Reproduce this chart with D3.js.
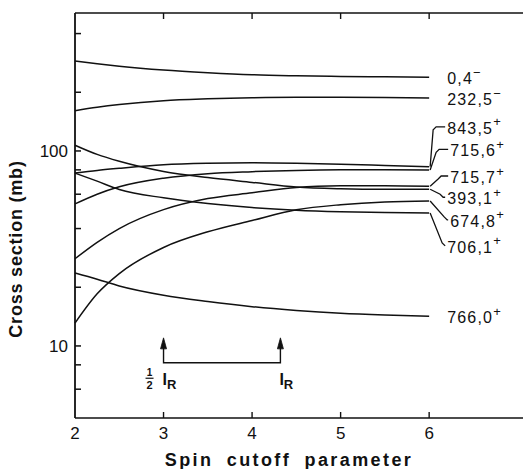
<!DOCTYPE html>
<html><head><meta charset="utf-8">
<script src="https://cdn.jsdelivr.net/npm/d3@7"></script>
<style>
html,body{margin:0;padding:0;background:#fff;}
svg{display:block;}
text{font-family:"Liberation Sans",Arial,sans-serif;fill:#111;}
</style></head>
<body>
<svg id="c" width="523" height="469"></svg>
<script>
// ---- data ----
const spinCutoff = [2, 2.25, 2.5, 3, 3.5, 4, 4.5, 5, 5.5, 6];
const levels = ["0,4", "232,5", "843,5", "715,6", "715,7", "393,1", "674,8", "706,1", "766,0"];
const parities = ["−", "−", "+", "+", "+", "+", "+", "+", "+"];
const sigma_0_4   = [289, 280, 272, 260, 252, 246, 243, 241, 240, 239];
const sigma_232_5 = [161, 167.5, 173, 181, 185, 187.5, 188.5, 188.5, 188, 187];
const sigma_843_5 = [77, 79.5, 81.5, 85, 86.5, 87, 86.5, 85.5, 84.3, 83.1];
const sigma_715_6 = [53.5, 60, 65.5, 72.5, 76.5, 78.3, 79.5, 80, 80, 79.9];
const sigma_715_7 = [28, 34, 40, 50, 57, 61, 65, 66.3, 66.4, 66];
const sigma_393_1 = [107, 96, 88.5, 78.5, 73, 69, 65.3, 64, 63.6, 63.6];
const sigma_674_8 = [13.1, 18.5, 23.5, 32, 38.5, 44, 49.9, 53, 54.8, 55.4];
const sigma_706_1 = [77, 70, 63.5, 57.5, 53.8, 51.3, 49.7, 48.8, 48.3, 48];
const sigma_766_0 = [23.7, 22, 20.3, 18.2, 16.9, 15.9, 15.2, 14.7, 14.4, 14.2];
const series = [sigma_0_4, sigma_232_5, sigma_843_5, sigma_715_6, sigma_715_7,
                sigma_393_1, sigma_674_8, sigma_706_1, sigma_766_0];
// label anchor values (mb) for the right-hand labels (null = at line end)
const labelValues = [null, null, 133, 102, 74.4, 57.9, 44.3, 32.6, null];
const xTicks = [2, 3, 4, 5, 6];
const xTickLabels = ["2", "3", "4", "5", "6"];
const yTicks = [6, 8, 10, 20, 40, 60, 80, 100, 200, 400];
const yTickLabels = [10, 100];
const arrowParams = [3.0, 4.32];           // ½ I_R and I_R
const arrowSpan = [8.2, 11.0];             // base, tip (mb)

// ---- layout ----
const svg = d3.select("#c");
const x = d3.scaleLinear().domain([2, 7.06]).range([75, 523]);
const y = d3.scaleLog().domain([4.27, 510]).range([418, 13]);
const ink = "#111";

const g = svg.append("g");

// frame: left, top, bottom
g.append("line").attr("x1", x(2)).attr("x2", x(2)).attr("y1", y.range()[0]).attr("y2", y.range()[1])
  .attr("stroke", ink).attr("stroke-width", 1.8);
g.append("line").attr("x1", x(2)).attr("x2", 523).attr("y1", y.range()[1]).attr("y2", y.range()[1])
  .attr("stroke", ink).attr("stroke-width", 1.6);
g.append("line").attr("x1", x(2)).attr("x2", 523).attr("y1", y.range()[0]).attr("y2", y.range()[0])
  .attr("stroke", ink).attr("stroke-width", 1.6);

// y ticks (inward)
g.selectAll(".yt").data(yTicks).enter().append("line")
  .attr("x1", x(2)).attr("x2", x(2) + 6).attr("y1", d => y(d)).attr("y2", d => y(d))
  .attr("stroke", ink).attr("stroke-width", 1.5);
g.selectAll(".yl").data(yTickLabels).enter().append("text")
  .attr("x", x(2) - 7).attr("y", d => y(d)).attr("dy", "0.36em")
  .attr("text-anchor", "end").attr("font-size", 17).text(d => d);

// x ticks (inward) bottom and top
xTicks.filter(d => d > 2).forEach(d => {
  g.append("line").attr("x1", x(d)).attr("x2", x(d)).attr("y1", y.range()[0]).attr("y2", y.range()[0] - 6)
    .attr("stroke", ink).attr("stroke-width", 1.4);
  g.append("line").attr("x1", x(d)).attr("x2", x(d)).attr("y1", y.range()[1]).attr("y2", y.range()[1] + 6)
    .attr("stroke", ink).attr("stroke-width", 1.4);
});
g.selectAll(".xl").data(xTicks).enter().append("text")
  .attr("x", d => x(d)).attr("y", 439).attr("text-anchor", "middle").attr("font-size", 17)
  .text((d, i) => xTickLabels[i]);

// axis titles
g.append("text").attr("x", 289).attr("y", 466).attr("text-anchor", "middle")
  .attr("font-size", 18).attr("font-weight", "bold").attr("letter-spacing", 2.4)
  .attr("word-spacing", 6).text("Spin cutoff parameter");
g.append("text").attr("transform", "translate(22,249) rotate(-90)").attr("text-anchor", "middle")
  .attr("font-size", 18).attr("font-weight", "bold").attr("letter-spacing", 0.8)
  .text("Cross section (mb)");

// curves
const line = d3.line().x((d, i) => x(spinCutoff[i])).y(d => y(d)).curve(d3.curveMonotoneX);
g.selectAll(".curve").data(series).enter().append("path")
  .attr("d", d => line(d)).attr("fill", "none").attr("stroke", ink).attr("stroke-width", 1.5);

// right labels with leaders
const xEnd = x(spinCutoff[spinCutoff.length - 1]);
const leaderDx = [0, 0, 4, 7, 9, 11, 15, 13, 0];
series.forEach((s, i) => {
  const endV = s[s.length - 1];
  const lv = labelValues[i];
  const ly = lv === null ? y(endV) : y(lv);
  const tx = xEnd + 18 + ((i === 3 || i === 4 || i === 6) ? 3 : 0);
  if (lv !== null) {
    g.append("path")
      .attr("d", d3.line()([[xEnd + 1, y(endV)], [xEnd + leaderDx[i], ly + (ly < y(endV) ? 3 : -3)],
                             [xEnd + leaderDx[i] + 3, ly], [tx - 2, ly]]))
      .attr("fill", "none").attr("stroke", ink).attr("stroke-width", 1.3);
  }
  const t = g.append("text").attr("x", tx).attr("y", ly).attr("dy", "0.42em")
    .attr("font-size", 16).attr("letter-spacing", 1.2);
  t.append("tspan").text(levels[i]);
  t.append("tspan").attr("dy", "-0.55em").attr("font-size", 13).text(parities[i]);
});

// spin cutoff arrows
const yBase = y(arrowSpan[0]), yTip = y(arrowSpan[1]);
g.append("path").attr("d", d3.line()([[x(arrowParams[0]), yTip + 6], [x(arrowParams[0]), yBase],
                                       [x(arrowParams[1]), yBase], [x(arrowParams[1]), yTip + 6]]))
  .attr("fill", "none").attr("stroke", ink).attr("stroke-width", 1.4);
arrowParams.forEach(p => {
  g.append("path").attr("d", d3.line()([[x(p) - 3, yTip + 11], [x(p), yTip], [x(p) + 3, yTip + 11]]) + "Z")
    .attr("fill", ink).attr("stroke", ink).attr("stroke-width", 0.8);
});
// labels ½ I_R  and I_R
const labY = yBase + 22;
arrowParams.forEach((p, i) => {
  const t = g.append("text").attr("x", x(p) - 1).attr("y", labY).attr("font-size", 16).attr("font-weight", "bold");
  t.append("tspan").text("I");
  t.append("tspan").attr("dy", 4).attr("font-size", 13).text("R");
});
const fx = x(arrowParams[0]) - 14;
g.append("text").attr("x", fx).attr("y", labY - 9).attr("text-anchor", "middle").attr("font-size", 10).attr("font-weight", "bold").text("1");
g.append("line").attr("x1", fx - 4).attr("x2", fx + 4).attr("y1", labY - 6.5).attr("y2", labY - 6.5).attr("stroke", ink).attr("stroke-width", 1.2);
g.append("text").attr("x", fx).attr("y", labY + 4).attr("text-anchor", "middle").attr("font-size", 11).attr("font-weight", "bold").text("2");
</script>
</body></html>
